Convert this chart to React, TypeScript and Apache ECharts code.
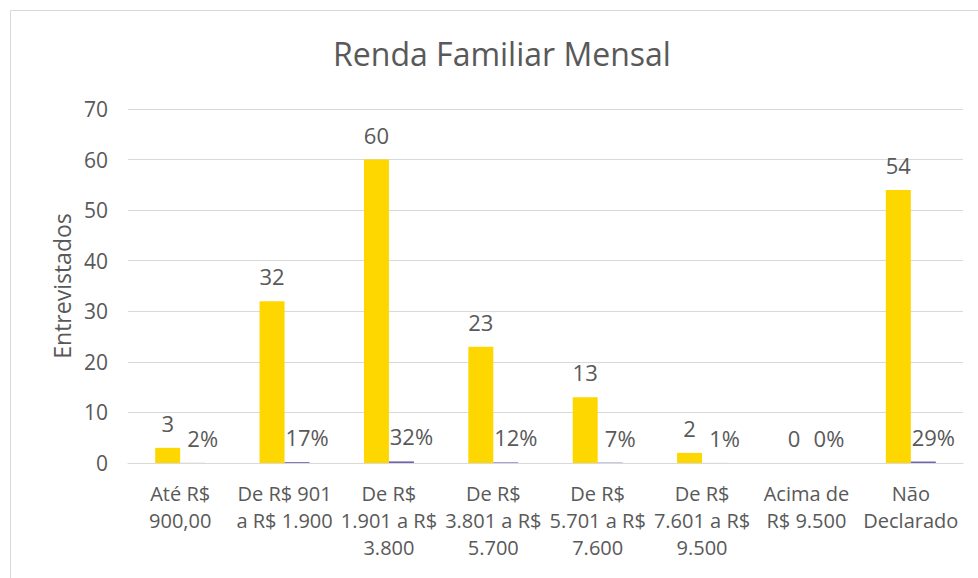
import React, { useEffect, useRef } from "react";
import * as echarts from "echarts";

const categories = [
  "Até R$\n900,00",
  "De R$ 901\na R$ 1.900",
  "De R$\n1.901 a R$\n3.800",
  "De R$\n3.801 a R$\n5.700",
  "De R$\n5.701 a R$\n7.600",
  "De R$\n7.601 a R$\n9.500",
  "Acima de\nR$ 9.500",
  "Não\nDeclarado",
];
const counts = [3, 32, 60, 23, 13, 2, 0, 54];
const percents = [2, 17, 32, 12, 7, 1, 0, 29];

const FONT = "Open Sans";
const TXT = "#595959";

export default function App() {
  const ref = useRef<HTMLDivElement>(null);
  useEffect(() => {
    if (!ref.current) return;
    const chart = echarts.init(ref.current, undefined, { renderer: "svg" });
    chart.setOption({
      animation: false,
      backgroundColor: "#ffffff",
      textStyle: { fontFamily: FONT, color: TXT },
      graphic: [
        {
          type: "rect",
          shape: { x: 10.5, y: 10.5, width: 1200, height: 1200 },
          style: { fill: "none", stroke: "#d9d9d9", lineWidth: 1 },
          silent: true,
        },
      ],
      title: {
        text: "Renda Familiar Mensal",
        left: 497,
        top: 32,
        textAlign: "center",
        textStyle: { fontFamily: FONT, fontSize: 32, fontWeight: "normal", color: TXT },
      },
      grid: { left: 128, right: 15, top: 109, bottom: 115, containLabel: false },
      xAxis: {
        type: "category",
        data: categories,
        axisLine: { show: true, lineStyle: { color: "#d9d9d9", width: 1 } },
        axisTick: { show: false },
        axisLabel: {
          interval: 0,
          color: TXT,
          fontFamily: FONT,
          fontSize: 20,
          lineHeight: 27,
          margin: 17,
        },
      },
      yAxis: {
        type: "value",
        min: 0,
        max: 70,
        interval: 10,
        name: "Entrevistados",
        nameLocation: "middle",
        nameRotate: 90,
        nameGap: 53,
        nameTextStyle: { color: TXT, fontFamily: FONT, fontSize: 23 },
        axisLine: { show: false },
        axisTick: { show: false },
        splitLine: { lineStyle: { color: "#d9d9d9", width: 1 } },
        axisLabel: { color: TXT, fontFamily: FONT, fontSize: 21, margin: 20 },
      },
      series: [
        {
          type: "bar",
          name: "Entrevistados",
          data: counts,
          barWidth: 25,
          barGap: "0%",
          itemStyle: { color: "#FFD700" },
          label: {
            show: true,
            position: "top",
            distance: 14,
            color: TXT,
            fontFamily: FONT,
            fontSize: 22,
          },
        },
        {
          type: "bar",
          name: "Percentual",
          data: percents.map((p) => p / 100),
          barWidth: 25,
          barGap: "0%",
          itemStyle: { color: "#7064b0" },
          label: {
            show: true,
            position: "top",
            distance: 14,
            offset: [10, 0],
            color: TXT,
            fontFamily: FONT,
            fontSize: 22,
            formatter: (p: any) => `${Math.round(p.value * 100)}%`,
          },
        },
      ],
    });
    return () => chart.dispose();
  }, []);
  return (
    <div
      ref={ref}
      style={{ position: "fixed", left: 0, top: 0, width: 978, height: 578 }}
    />
  );
}
